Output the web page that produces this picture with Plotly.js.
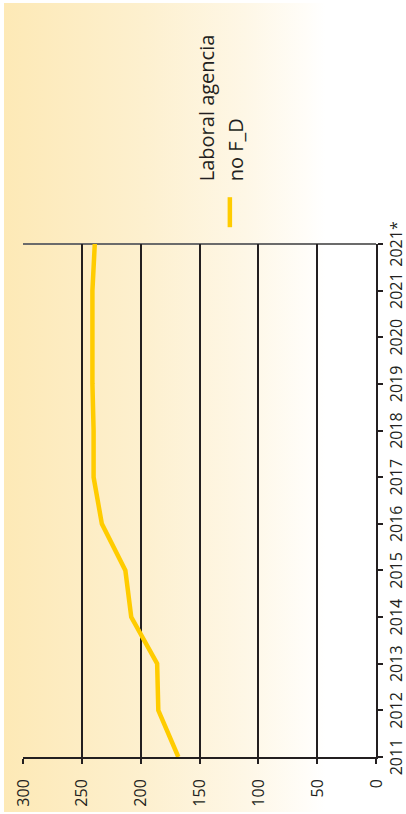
<!DOCTYPE html>
<html>
<head>
<meta charset="utf-8">
<script src="https://cdn.plot.ly/plotly-3.0.1.min.js"></script>
<style>
  html, body { margin: 0; padding: 0; width: 406px; height: 814px; overflow: hidden; background: #ffffff; }
  #wrap { position: absolute; left: 0; top: 0; width: 814px; height: 406px;
          transform-origin: 0 0; transform: translate(0px, 814px) rotate(-90deg); }
  #bg { position: absolute; left: 2px; top: 4px; width: 809px; height: 402px;
        background: linear-gradient(to bottom, #fde9b6 0%, #fdf0cf 35%, #fef7e6 60%, #fffdf8 75%, #ffffff 80%); }
  #chart { position: absolute; left: 0; top: 0; width: 814px; height: 406px; }
</style>
</head>
<body>
<div id="wrap">
  <div id="bg"></div>
  <div id="chart"></div>
</div>
<script>
// Data (years along the category axis, values along the value axis)
const categories = ['2011','2012','2013','2014','2015','2016','2017','2018','2019','2020','2021','2021*'];
const seriesName = 'Laboral agencia<br>no F_D';
const values = [168, 185, 186, 208, 213, 233, 240, 240, 241, 241, 241, 239];
const valueTicks = [0, 50, 100, 150, 200, 250, 300];

const ink = '#231f20';
const fontFamily = '"Open Sans", "Noto Sans", "DejaVu Sans", sans-serif';

const trace = {
  type: 'scatter',
  mode: 'lines',
  x: categories,
  y: values,
  name: seriesName,
  line: { color: '#ffcc00', width: 4.5 },
  showlegend: true
};

const layout = {
  width: 814,
  height: 406,
  margin: { l: 57, r: 244, t: 23, b: 30, pad: 0 },
  paper_bgcolor: 'rgba(0,0,0,0)',
  plot_bgcolor: 'rgba(0,0,0,0)',
  font: { family: fontFamily, color: ink, size: 16 },
  showlegend: true,
  legend: {
    x: 1.023, xanchor: 'left',
    y: 0.414, yanchor: 'middle',
    bgcolor: 'rgba(0,0,0,0)',
    borderwidth: 0,
    font: { family: fontFamily, size: 20, color: ink }
  },
  xaxis: {
    type: 'category',
    range: [0, categories.length - 1],
    showgrid: false,
    showline: true,
    linecolor: ink,
    linewidth: 2,
    ticks: 'outside',
    ticklen: 5,
    tickwidth: 2,
    tickcolor: ink,
    tickangle: 0,
    tickfont: { family: fontFamily, size: 16, color: ink },
    automargin: false,
    zeroline: false,
    fixedrange: true
  },
  yaxis: {
    range: [0, 300],
    tickmode: 'array',
    tickvals: valueTicks,
    ticktext: valueTicks.map(String),
    showgrid: true,
    gridcolor: ink,
    gridwidth: 2,
    showline: true,
    linecolor: ink,
    linewidth: 2,
    ticks: 'outside',
    ticklen: 5,
    tickwidth: 2,
    tickcolor: ink,
    ticklabelstandoff: 12,
    tickfont: { family: fontFamily, size: 16, color: ink },
    zeroline: false,
    automargin: false,
    fixedrange: true
  },
  shapes: [
    { type: 'line', xref: 'paper', yref: 'paper', x0: 1, x1: 1, y0: 0, y1: 1,
      line: { color: '#6b6b6b', width: 2 }, layer: 'below' }
  ]
};

Plotly.newPlot('chart', [trace], layout, { displayModeBar: false, staticPlot: true }).then(function (gd) {
  // match the reference's legend text spacing and gap after the symbol
  gd.querySelectorAll('.legend [clip-path], .legend .scrollbox').forEach(function (el) {
    el.removeAttribute('clip-path');
  });
  const txt = gd.querySelector('.legendtext');
  if (txt) {
    const x0 = parseFloat(txt.getAttribute('x')) || 40;
    const nx = x0 + 11;
    txt.setAttribute('x', nx);
    const lines = txt.querySelectorAll('tspan.line');
    lines.forEach(function (t) { t.setAttribute('x', nx); });
    if (lines.length === 2) {
      lines[0].setAttribute('dy', '-11px');
      lines[1].setAttribute('dy', '18.5px');
    }
  }
});
</script>
</body>
</html>
